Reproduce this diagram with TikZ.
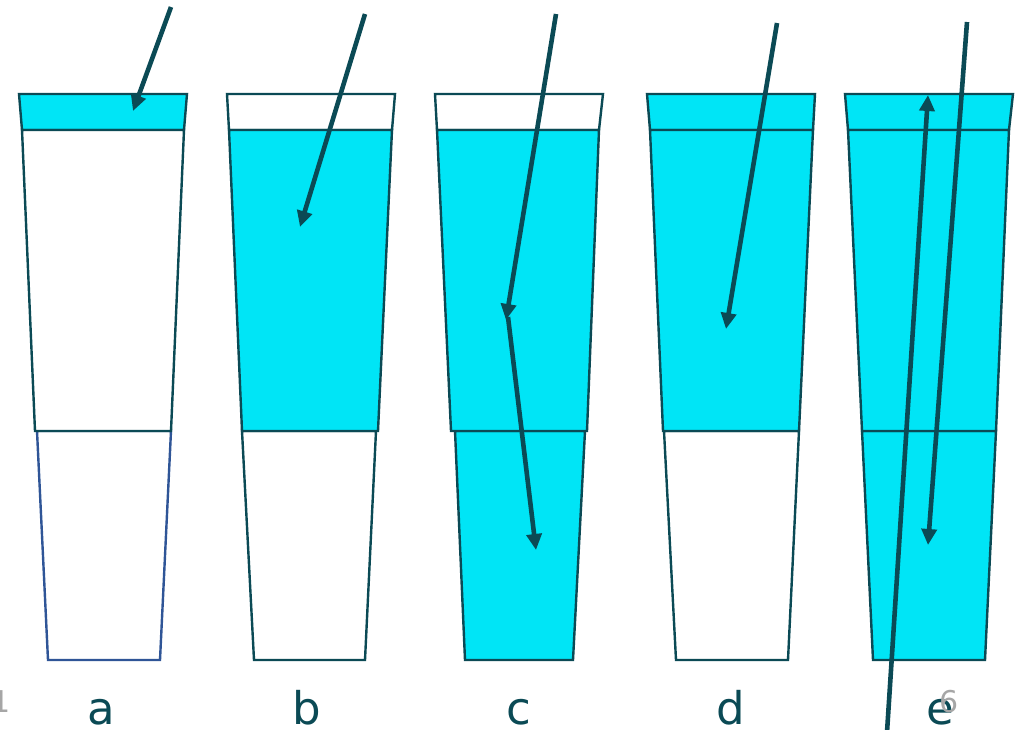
\documentclass[tikz,border=0pt]{standalone}
\usepackage{fontspec}
\setmainfont{DejaVu Sans}
\usetikzlibrary{arrows.meta}
\definecolor{cy}{HTML}{00E5F6}
\definecolor{dk}{HTML}{0B4A55}
\definecolor{bl}{HTML}{2F5597}
\definecolor{gr}{HTML}{A6A6A6}
\tikzset{
  edge/.style={draw=dk,line width=2.4pt,line join=miter},
  arr/.style={dk,line width=4.6pt,-{Triangle[length=16pt,width=15pt]}},
  lbl/.style={text=dk,font=\fontsize{45}{45}\selectfont,inner sep=0pt,anchor=base},
  num/.style={text=gr,font=\fontsize{30}{30}\selectfont,inner sep=0pt,anchor=base}
}
\begin{document}
\begin{tikzpicture}[x=1pt,y=-1pt]
\useasboundingbox (0,0) rectangle (1020,729);
% columns: top-left x, middle (top l/r, bottom l/r), bottom (top l/r, bottom l/r), fills, bottom outline
\foreach \L/\ma/\mb/\mc/\md/\ba/\bb/\bc/\bd/\fa/\fb/\fc/\oc in {
  19/22/184/35/171/37/171/48/160/cy/white/white/bl,
  227/229/392/242/378/242/376/254/365/white/cy/white/dk,
  435/437/599/451/587/455/585/465/573/white/cy/cy/dk,
  647/650/813/663/799/664/799/676/788/cy/cy/white/dk,
  845/848/1009/862/996/862/996/873/985/cy/cy/cy/dk}{
  \path[edge,fill=\fa] (\L,94) -- (\L+168,94) -- (\mb,130) -- (\ma,130) -- cycle;
  \path[edge,draw=\oc,fill=\fc] (\ba,431) -- (\bb,431) -- (\bd,660) -- (\bc,660) -- cycle;
  \path[edge,fill=\fb] (\ma,130) -- (\mb,130) -- (\md,431) -- (\mc,431) -- cycle;
}
% labels
\node[lbl] (la) at (101,724) {a};
\node[lbl] (lb) at (307,724) {b};
\node[lbl] (lc) at (519,724) {c};
\node[lbl] (ld) at (731,724) {d};
\node[lbl] (le) at (940,724) {e};
\node[num] (n1) at (1,712) {1};
\node[num] (n6) at (949,712) {6};
% arrows
\coordinate (a0) at (171,7);   \coordinate (a1) at (133,111);
\coordinate (b0) at (365,14);  \coordinate (b1) at (300,227);
\coordinate (c0) at (556,14);  \coordinate (c1) at (506,320);
\coordinate (c2) at (508,317); \coordinate (c3) at (536,550);
\coordinate (d0) at (777,23);  \coordinate (d1) at (726,329);
\coordinate (e0) at (886.5,740); \coordinate (e1) at (928,95);
\coordinate (e2) at (967,22);  \coordinate (e3) at (928,545);
\draw[arr] (a0) -- (a1);
\draw[arr] (b0) -- (b1);
\draw[arr] (c0) -- (c1);
\draw[arr] (c2) -- (c3);
\draw[arr] (d0) -- (d1);
\draw[arr] (e0) -- (e1);
\draw[arr] (e2) -- (e3);
\end{tikzpicture}
\end{document}
